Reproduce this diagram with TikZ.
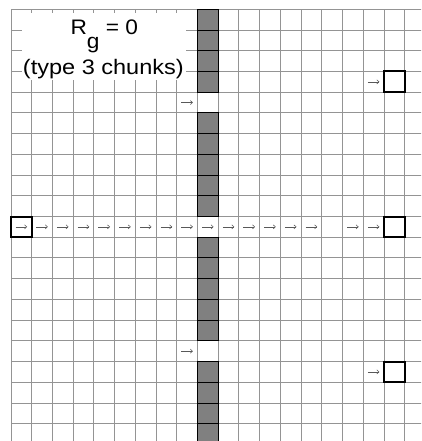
\documentclass[tikz,border=0pt]{standalone}
\usepackage{fontspec}
\setmainfont{Liberation Sans}
\usetikzlibrary{arrows.meta}
\tikzset{
  gridline/.style={draw=black!42, line width=0.9pt},
  graycell/.style={fill=black!50, draw=black, line width=0.9pt},
  hotcell/.style={draw=black, line width=2pt},
  arr/.style={draw=black!65, line width=0.55pt, -{Straight Barb[length=2.2pt,width=4pt]}},
  labelbox/.style={fill=white, draw=none, inner sep=0pt},
  labeltext/.style={anchor=base, inner sep=0pt, font=\fontsize{21pt}{25pt}\selectfont}
}
\begin{document}
\begin{tikzpicture}[x=20.72pt, y=-20.72pt]
\useasboundingbox (-0.5309,-0.4488) rectangle (19.788,20.835);
\clip (-0.5309,-0.4488) rectangle (19.788,20.835);
% grid
\foreach \i in {0,...,19} \draw[gridline] (\i,0) -- (\i,21);
\foreach \j in {0,...,20} \draw[gridline] (0,\j) -- (20,\j);
% gray column
\foreach \r in {0,1,2,3,5,6,7,8,9,11,12,13,14,15,17,18,19,20}
  \draw[graycell] (9,\r) rectangle (10,\r+1);
% highlighted cells
\draw[hotcell] (0,10) rectangle (1,11);
\draw[hotcell] (18,3) rectangle (19,4);
\draw[hotcell] (18,10) rectangle (19,11);
\draw[hotcell] (18,17) rectangle (19,18);
% arrows
\foreach \c/\r in {17/3, 8/4, 8/16, 17/17,
  0/10,1/10,2/10,3/10,4/10,5/10,6/10,7/10,8/10,9/10,10/10,11/10,12/10,13/10,14/10,16/10,17/10}
  \draw[arr] (\c+0.22,\r+0.5) -- (\c+0.78,\r+0.5);
% label
\fill[labelbox] (0.531,0.193) rectangle (8.446,3.412);
\node[labeltext] (title) at (4.50,1.240) {\scalebox{1.08}[1]{R\raisebox{-13.5pt}{g} = 0}};
\node[labeltext] (subtitle) at (4.457,3.123) {\scalebox{1.12}[1]{(type 3 chunks)}};
\end{tikzpicture}
\end{document}
